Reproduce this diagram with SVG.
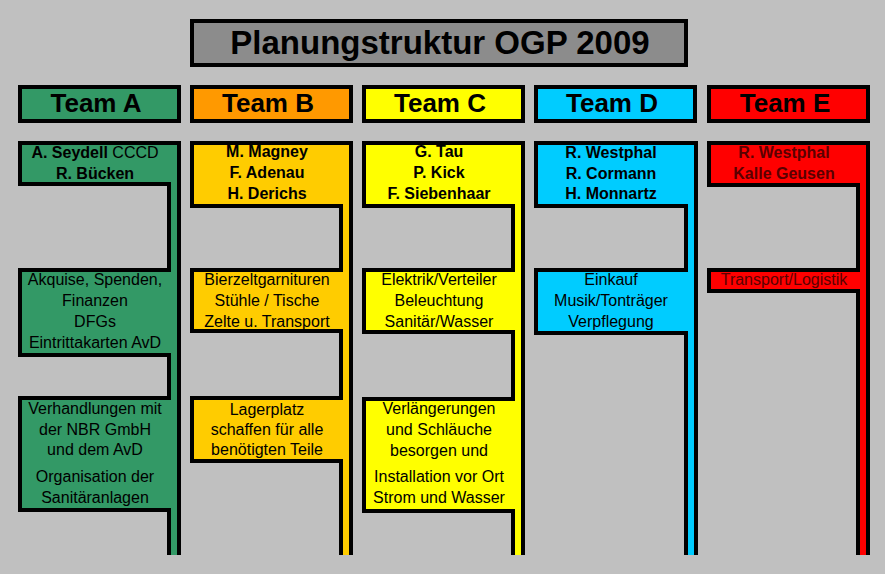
<svg xmlns="http://www.w3.org/2000/svg" width="885" height="574" viewBox="0 0 885 574">
<style>
text{font-family:"Liberation Sans",Arial,sans-serif;text-anchor:middle;fill:#000}
.title{font-size:33px;font-weight:bold}
.hdr{font-size:26px;font-weight:bold}
.nm{font-size:16px;font-weight:bold}
.tk{font-size:16px}
.box{stroke:#000;stroke-width:4}
.col{stroke:#000;stroke-width:4;stroke-linejoin:miter}
.red-t{fill:#5a0000}
</style>
<rect width="885" height="574" fill="#C0C0C0"/>
<g id="title">
<rect class="box" x="192" y="21" width="494" height="44" fill="#8c8c8c" stroke-width="5"/>
<text class="title" x="440" y="54">Planungstruktur OGP 2009</text>
</g>
<g id="team-a-header">
<rect class="box" x="20" y="87" width="159" height="34" fill="#339966"/>
<text class="hdr" x="96" y="112">Team A</text>
</g>
<g id="team-b-header">
<rect class="box" x="192" y="87" width="159" height="34" fill="#FF9900"/>
<text class="hdr" x="268" y="112">Team B</text>
</g>
<g id="team-c-header">
<rect class="box" x="364" y="87" width="159" height="34" fill="#FFFF00"/>
<text class="hdr" x="440" y="112">Team C</text>
</g>
<g id="team-d-header">
<rect class="box" x="536" y="87" width="159" height="34" fill="#00CCFF"/>
<text class="hdr" x="612" y="112">Team D</text>
</g>
<g id="team-e-header">
<rect class="box" x="709" y="87" width="159" height="34" fill="#FF0000"/>
<text class="hdr" x="785" y="112">Team E</text>
</g>
<g id="connectors"></g>
<g id="team-a-column">
<path class="col" fill="#339966" d="M169,555 V510 H20 V398 H169 V355 H20 V270 H169 V184 H20 V143 H179 V555"/>
<text class="nm" x="95" y="158">A. Seydell<tspan font-weight="normal"> CCCD</tspan></text>
<text class="nm" x="95" y="179">R. Bücken</text>
<text class="tk" x="95" y="285">Akquise, Spenden,</text>
<text class="tk" x="95" y="306">Finanzen</text>
<text class="tk" x="95" y="327">DFGs</text>
<text class="tk" x="95" y="348">Eintrittakarten AvD</text>
<text class="tk" x="95" y="414">Verhandlungen mit</text>
<text class="tk" x="95" y="435">der NBR GmbH</text>
<text class="tk" x="95" y="455">und dem AvD</text>
<text class="tk" x="95" y="482">Organisation der</text>
<text class="tk" x="95" y="503">Sanitäranlagen</text>
</g>
<g id="team-b-column">
<path class="col" fill="#FFCC00" d="M341,555 V461 H192 V398 H341 V331 H192 V270 H341 V206 H192 V143 H351 V555"/>
<text class="nm" x="267" y="157">M. Magney</text>
<text class="nm" x="267" y="178">F. Adenau</text>
<text class="nm" x="267" y="199">H. Derichs</text>
<text class="tk" x="267" y="285">Bierzeltgarnituren</text>
<text class="tk" x="267" y="306">Stühle / Tische</text>
<text class="tk" x="267" y="327">Zelte u. Transport</text>
<text class="tk" x="267" y="415">Lagerplatz</text>
<text class="tk" x="267" y="435">schaffen für alle</text>
<text class="tk" x="267" y="455">benötigten Teile</text>
</g>
<g id="team-c-column">
<path class="col" fill="#FFFF00" d="M513,555 V511 H364 V399 H513 V332 H364 V270 H513 V206 H364 V143 H523 V555"/>
<text class="nm" x="439" y="157">G. Tau</text>
<text class="nm" x="439" y="178">P. Kick</text>
<text class="nm" x="439" y="199">F. Siebenhaar</text>
<text class="tk" x="439" y="285">Elektrik/Verteiler</text>
<text class="tk" x="439" y="306">Beleuchtung</text>
<text class="tk" x="439" y="327">Sanitär/Wasser</text>
<text class="tk" x="439" y="414">Verlängerungen</text>
<text class="tk" x="439" y="435">und Schläuche</text>
<text class="tk" x="439" y="456">besorgen und</text>
<text class="tk" x="439" y="482">Installation vor Ort</text>
<text class="tk" x="439" y="503">Strom und Wasser</text>
</g>
<g id="team-d-column">
<path class="col" fill="#00CCFF" d="M686,555 V333 H536 V270 H686 V206 H536 V143 H696 V555"/>
<text class="nm" x="611" y="158">R. Westphal</text>
<text class="nm" x="611" y="179">R. Cormann</text>
<text class="nm" x="611" y="199">H. Monnartz</text>
<text class="tk" x="611" y="285">Einkauf</text>
<text class="tk" x="611" y="306">Musik/Tonträger</text>
<text class="tk" x="611" y="327">Verpflegung</text>
</g>
<g id="team-e-column">
<path class="col" fill="#FF0000" d="M858,555 V291 H709 V270 H858 V185 H709 V143 H868 V555"/>
<text class="nm red-t" x="784" y="158">R. Westphal</text>
<text class="nm red-t" x="784" y="179">Kalle Geusen</text>
<text class="tk red-t" x="784" y="285">Transport/Logistik</text>
</g>
</svg>
